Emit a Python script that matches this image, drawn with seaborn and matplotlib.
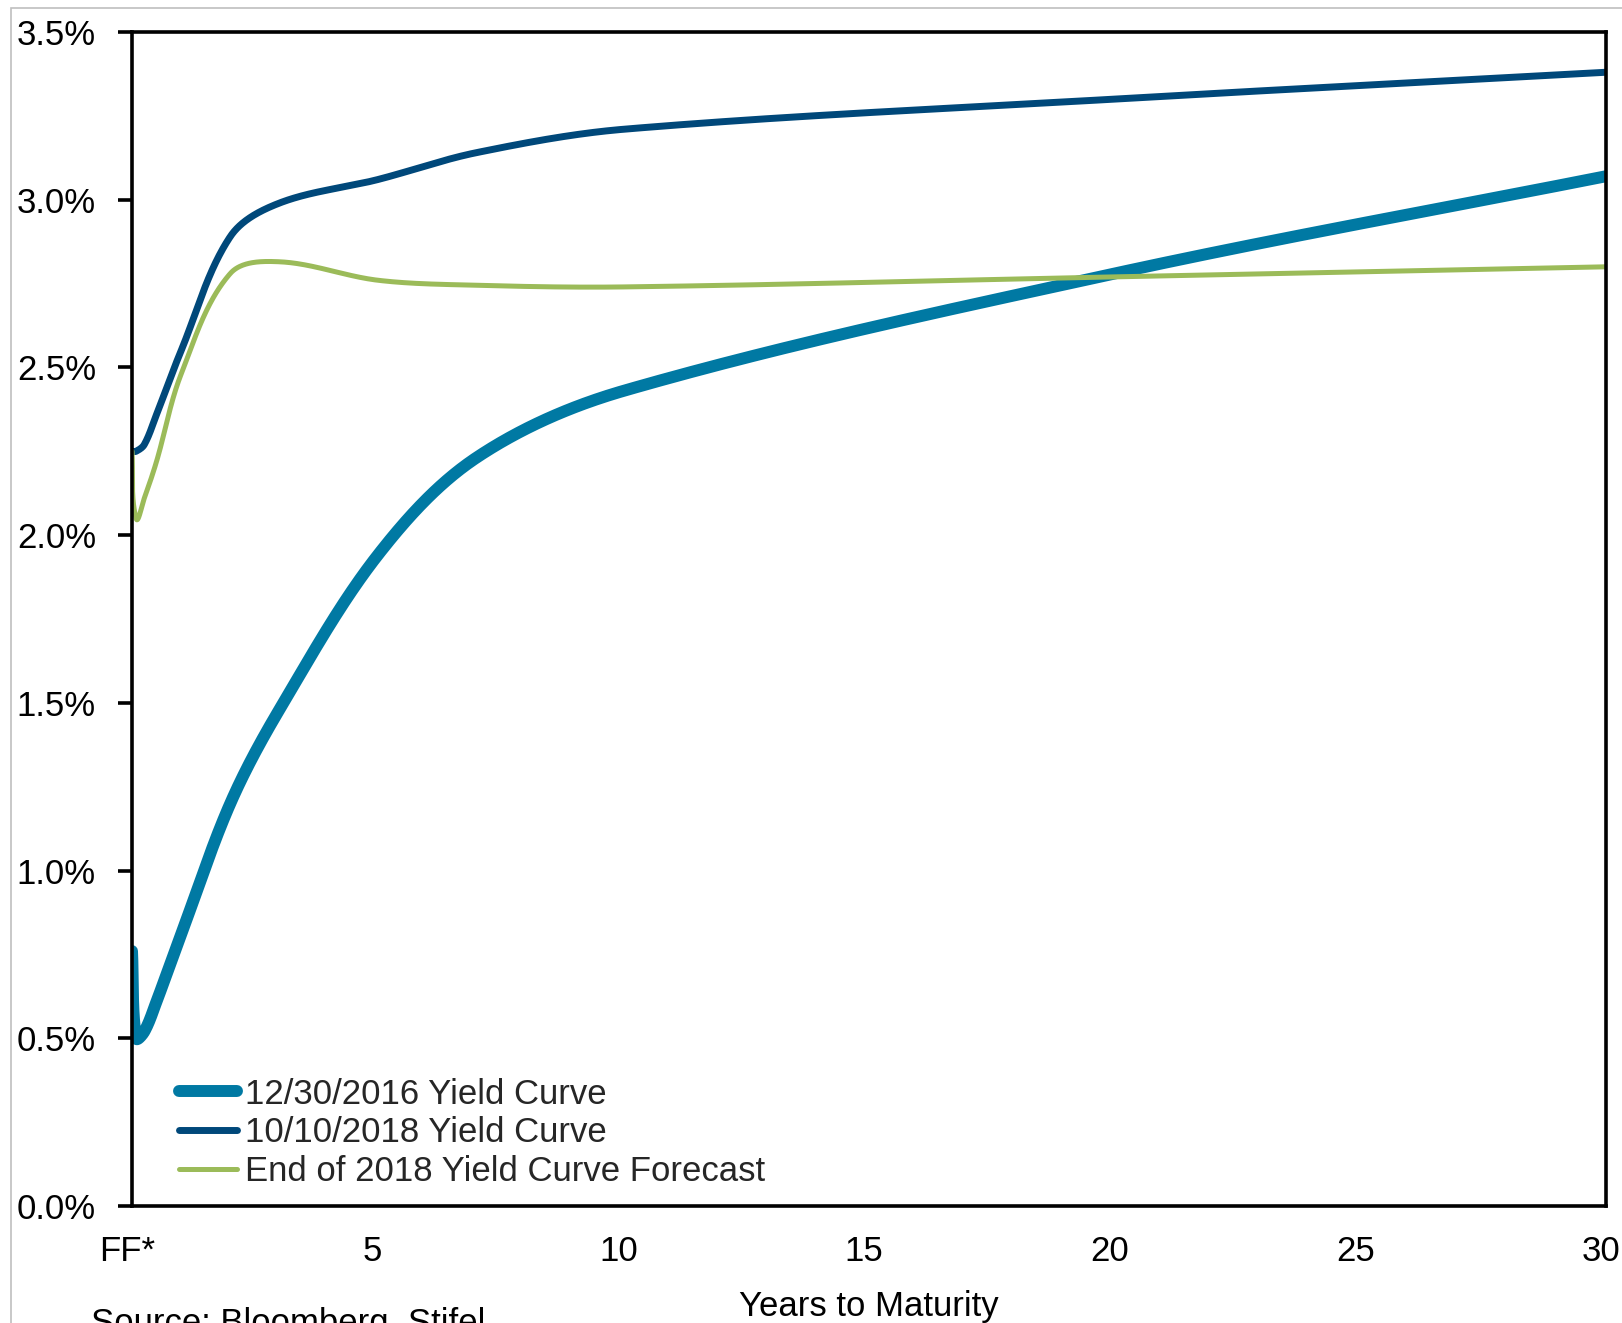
import numpy as np
import pandas as pd
import matplotlib
matplotlib.use("Agg")
import matplotlib.pyplot as plt
import seaborn as sns
from matplotlib.patches import Rectangle
from matplotlib.transforms import ScaledTranslation

# Tenors in years (FF = overnight fed funds, then 1m, 3m, 6m, 1y ... 30y)
tenor_years = [0, 0.083, 0.25, 0.5, 1, 2, 3, 5, 7, 10, 20, 30]

# Yields in percent
yc_2016 = [0.76, 0.50, 0.52, 0.61, 0.81, 1.20, 1.48, 1.94, 2.23, 2.43, 2.78, 3.07]
yc_2018 = [2.25, 2.25, 2.27, 2.36, 2.55, 2.89, 2.99, 3.06, 3.14, 3.21, 3.30, 3.38]
yc_forecast = [2.25, 2.05, 2.11, 2.22, 2.48, 2.78, 2.815, 2.76, 2.745, 2.74, 2.77, 2.80]

series_labels = ["12/30/2016 Yield Curve", "10/10/2018 Yield Curve",
                 "End of 2018 Yield Curve Forecast"]
series_colors = ["#0079A3", "#00487A", "#9BBB59"]
series_widths = [8.6, 5.0, 3.6]

x_tick_values = [0, 5, 10, 15, 20, 25, 30]
x_tick_labels = ["FF*", "5", "10", "15", "20", "25", "30"]
y_tick_values = [0.0, 0.5, 1.0, 1.5, 2.0, 2.5, 3.0, 3.5]
y_tick_labels = [f"{v:.1f}%" for v in y_tick_values]


def smooth_path(x, y, sx, sy, steps=80):
    """Smoothed line through the points: cubic Bezier segments whose handles
    follow the neighbour direction and are scaled by each segment's chord,
    worked out in screen-proportional units."""
    P = np.column_stack([np.asarray(x, float) * sx, np.asarray(y, float) * sy])
    n = len(P)
    dirs = []
    for i in range(n):
        d = P[min(i + 1, n - 1)] - P[max(i - 1, 0)]
        dirs.append(d / np.hypot(*d))
    t = np.linspace(0, 1, steps)[:, None]
    out = [P[:1]]
    for i in range(n - 1):
        p1, p2 = P[i], P[i + 1]
        chord = np.hypot(*(p2 - p1))
        c1 = p1 + dirs[i] * chord / 3.0
        c2 = p2 - dirs[i + 1] * chord / 3.0
        seg = ((1 - t) ** 3) * p1 + 3 * ((1 - t) ** 2) * t * c1 \
            + 3 * (1 - t) * t ** 2 * c2 + t ** 3 * p2
        out.append(seg[1:])
    Q = np.vstack(out)
    return Q[:, 0] / sx, Q[:, 1] / sy


sns.set_theme(style="white")
plt.rcParams["font.family"] = ["Liberation Sans", "DejaVu Sans"]

W, H = 1622, 1323
fig = plt.figure(figsize=(W / 100, H / 100), dpi=100)
fig.patch.set_facecolor("white")

ax_l, ax_r, ax_t, ax_b = 132, 1606, 32, 1206
ax = fig.add_axes([ax_l / W, 1 - ax_b / H, (ax_r - ax_l) / W, (ax_b - ax_t) / H])

x_min, x_max = 0, 30
y_min, y_max = 0.0, 3.5
sx = (ax_r - ax_l) / (x_max - x_min)
sy = (ax_b - ax_t) / (y_max - y_min)

for vals, lab, col, lw in zip([yc_2016, yc_2018, yc_forecast],
                              series_labels, series_colors, series_widths):
    xs, ys = smooth_path(tenor_years, vals, sx, sy)
    df = pd.DataFrame({"years": xs, "yield": ys})
    sns.lineplot(data=df, x="years", y="yield", ax=ax, color=col, linewidth=lw,
                 label=lab, sort=False, estimator=None, solid_capstyle="round")

ax.set_xlim(x_min, x_max)
ax.set_ylim(y_min, y_max)
ax.set_xticks(x_tick_values)
ax.set_xticklabels(x_tick_labels)
ax.set_yticks(y_tick_values)
ax.set_yticklabels(y_tick_labels)

ax.tick_params(axis="y", direction="out", length=10, width=2.6, pad=16,
               labelsize=25, colors="black", left=True)
ax.tick_params(axis="x", length=0, pad=21, labelsize=25, colors="black")

for lbl in ax.get_xticklabels():
    lbl.set_transform(lbl.get_transform()
                      + ScaledTranslation(-5 / 100, 0, fig.dpi_scale_trans))

for s in ax.spines.values():
    s.set_visible(True)
    s.set_color("black")
    s.set_linewidth(2.6)
    s.set_zorder(5)

ax.set_xlabel("Years to Maturity", fontsize=25, labelpad=16, color="black")
ax.set_ylabel("")
ax.grid(False)

ax.legend(loc="lower left", bbox_to_anchor=((179 - ax_l) / (ax_r - ax_l), 0.015),
          frameon=False, borderpad=0, borderaxespad=0, handlelength=1.67,
          handletextpad=0.23, labelspacing=0.17, fontsize=25)

fig.text(91 / W, 1 - 1307 / H, "Source: Bloomberg, Stifel", fontsize=25,
         va="top", ha="left", color="black")

# outer chart frame
fig.patches.append(Rectangle((11 / W, -0.05), 1.2, 1.05 - 8 / H,
                             transform=fig.transFigure, fill=False,
                             edgecolor="#BFBFBF", linewidth=1.2))

fig.savefig("out.png", dpi=100, facecolor="white")
